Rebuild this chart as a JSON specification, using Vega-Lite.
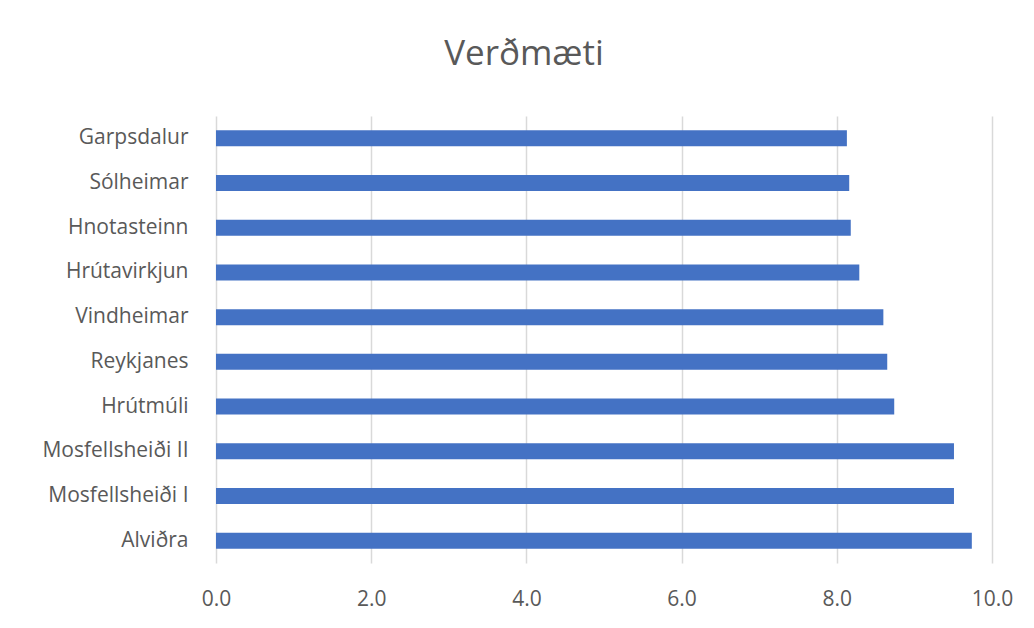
{
  "$schema": "https://vega.github.io/schema/vega-lite/v6.json",
  "autosize": {"type": "none"},
  "width": 776,
  "height": 447,
  "padding": {"left": 216, "top": 116, "right": 42, "bottom": 65},
  "background": "white",
  "title": {
    "text": "Verðmæti",
    "anchor": "middle",
    "frame": "group",
    "dx": -80,
    "offset": 44,
    "font": "Open Sans",
    "fontSize": 35,
    "fontWeight": "normal",
    "color": "#595959"
  },
  "data": {
    "values": [
      {"name": "Garpsdalur", "value": 8.13},
      {"name": "Sólheimar", "value": 8.16},
      {"name": "Hnotasteinn", "value": 8.18},
      {"name": "Hrútavirkjun", "value": 8.29},
      {"name": "Vindheimar", "value": 8.60},
      {"name": "Reykjanes", "value": 8.65},
      {"name": "Hrútmúli", "value": 8.74},
      {"name": "Mosfellsheiði II", "value": 9.51},
      {"name": "Mosfellsheiði I", "value": 9.51},
      {"name": "Alviðra", "value": 9.74}
    ]
  },
  "mark": {"type": "bar", "color": "#4472C4", "size": 16},
  "encoding": {
    "y": {
      "field": "name",
      "type": "nominal",
      "sort": null,
      "axis": {
        "title": null,
        "domain": false,
        "ticks": false,
        "labelPadding": 28,
        "labelFont": "Open Sans",
        "labelFontSize": 21,
        "labelColor": "#595959"
      }
    },
    "x": {
      "field": "value",
      "type": "quantitative",
      "scale": {"domain": [0, 10], "nice": false},
      "axis": {
        "title": null,
        "values": [0, 2, 4, 6, 8, 10],
        "format": ".1f",
        "domain": false,
        "ticks": false,
        "grid": true,
        "gridColor": "#d9d9d9",
        "gridWidth": 1.5,
        "labelFlush": false,
        "labelPadding": 25,
        "labelFont": "Open Sans",
        "labelFontSize": 21,
        "labelColor": "#595959"
      }
    }
  },
  "config": {"view": {"stroke": null}}
}
